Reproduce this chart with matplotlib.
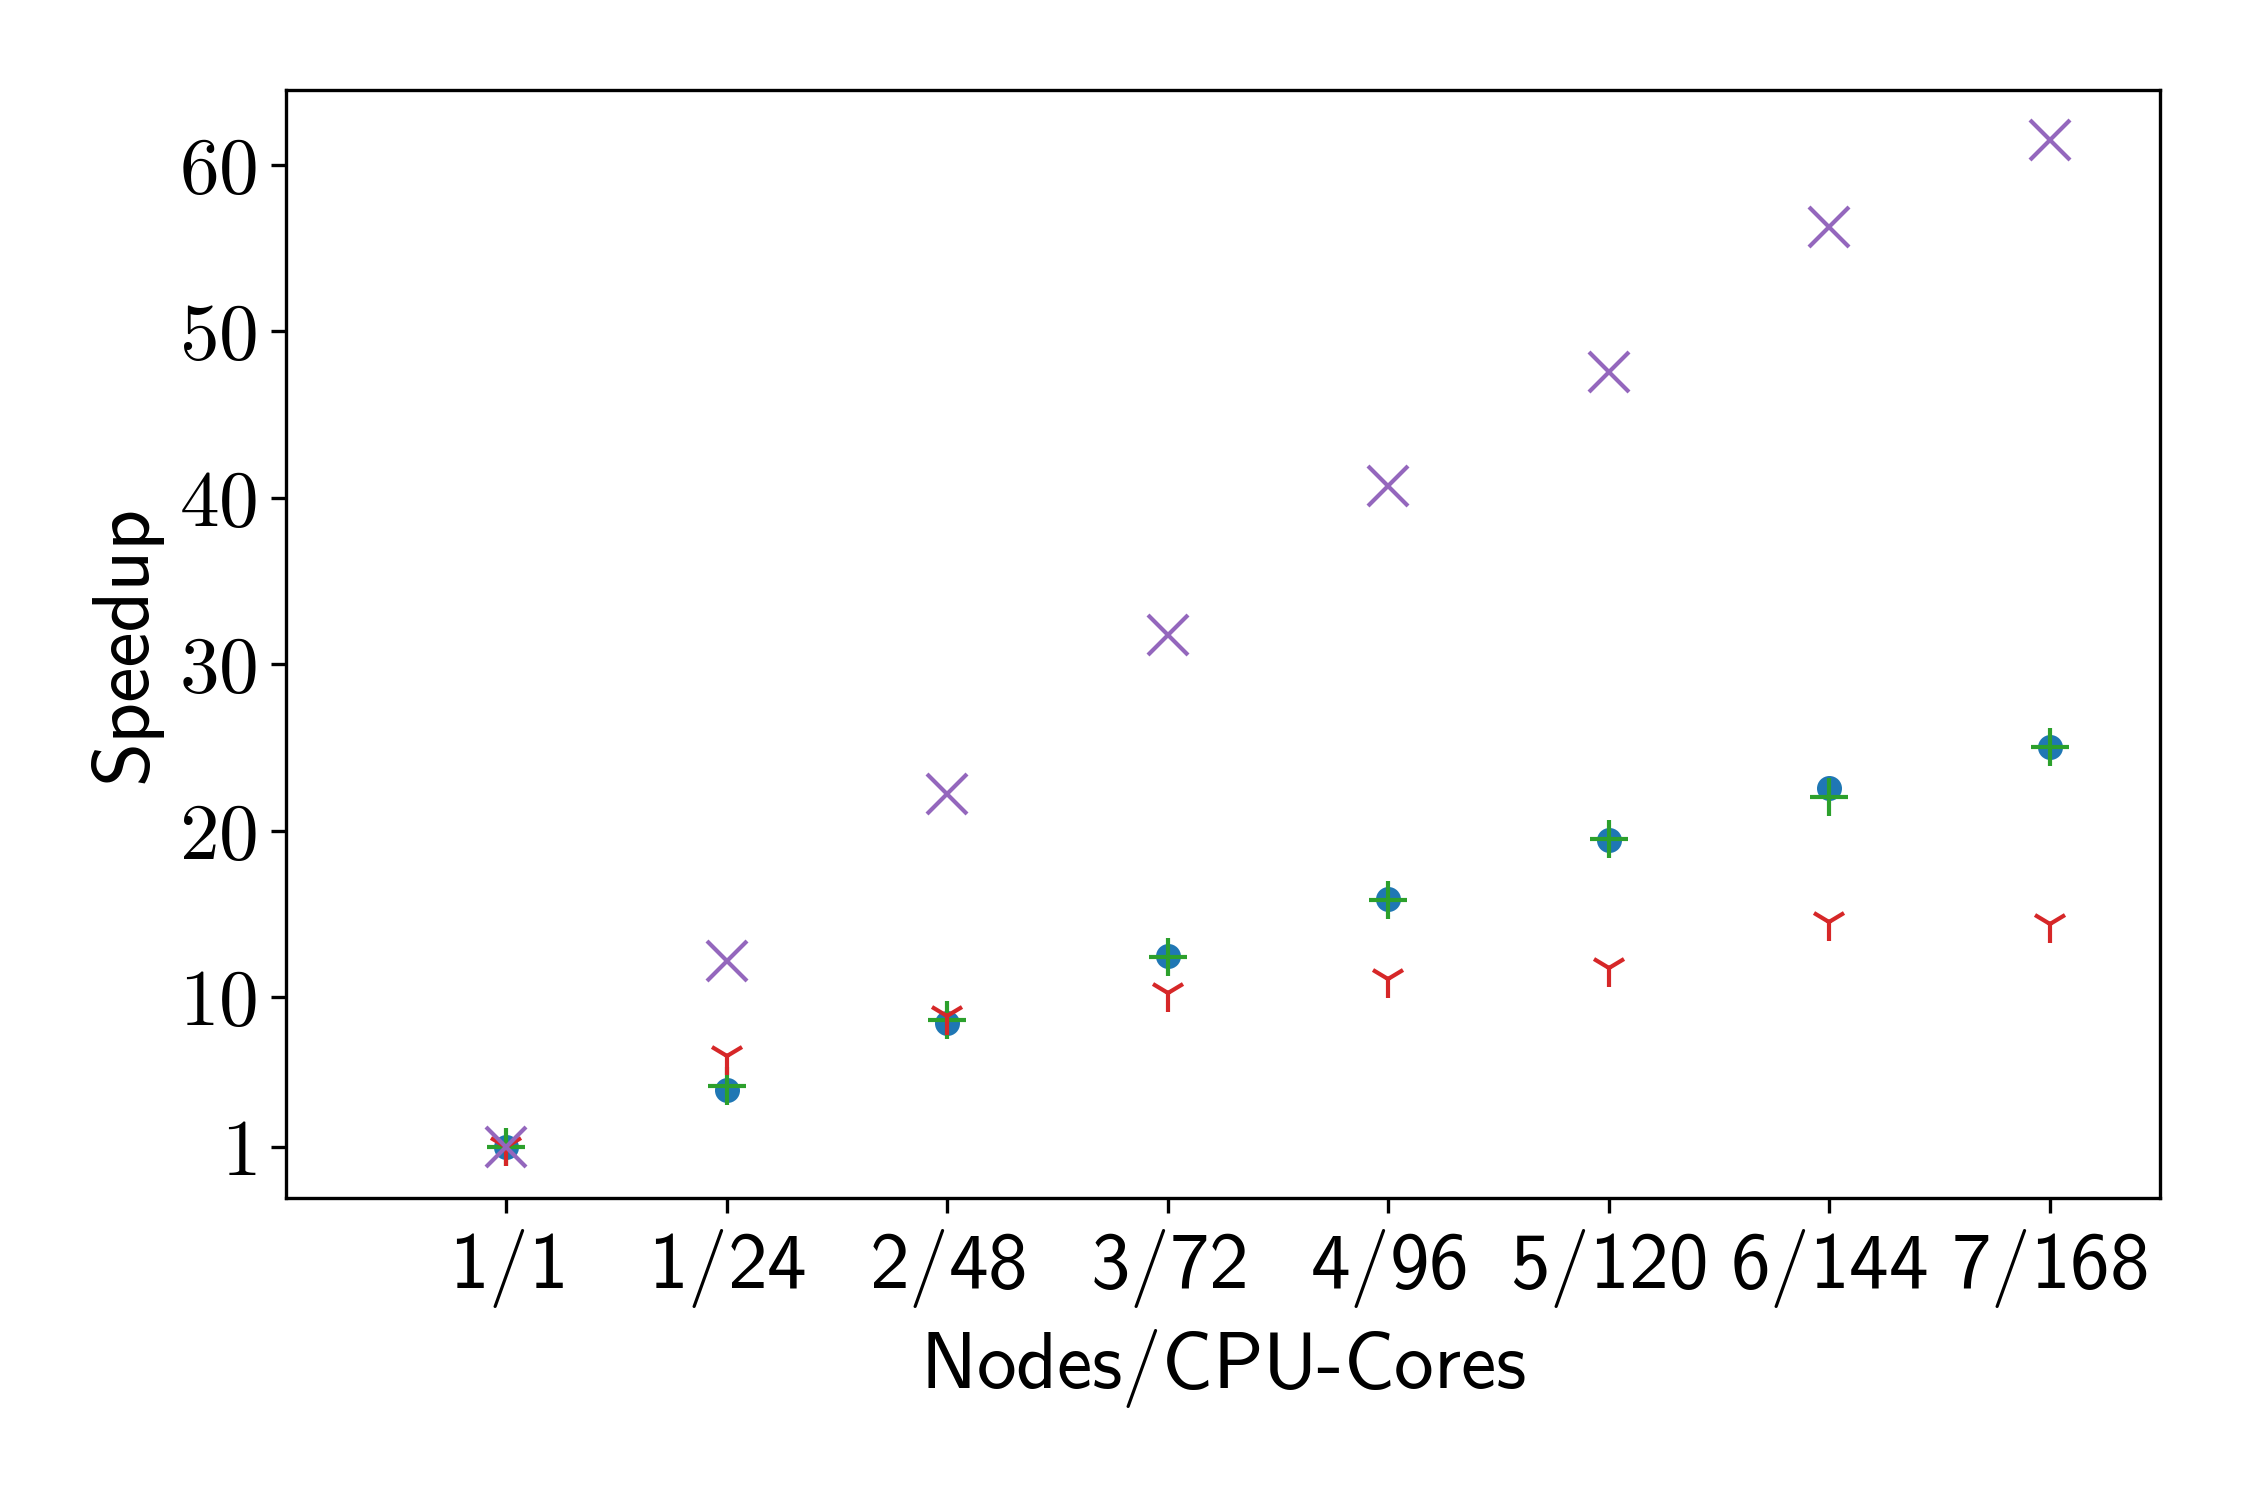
import numpy as np
import matplotlib.pyplot as plt

plt.rcParams['font.family'] = 'cmss10'
plt.rcParams['mathtext.fontset'] = 'cm'
plt.rcParams['axes.unicode_minus'] = False

configs = ['1/1', '1/24', '2/48', '3/72', '4/96', '5/120', '6/144', '7/168']
speedup_a = [1.0, 4.42, 8.46, 12.47, 15.9, 19.46, 22.56, 25.06]   # circles
speedup_b = [1.0, 4.7, 8.66, 12.42, 15.84, 19.54, 22.04, 25.06]   # plus
speedup_c = [1.0, 6.46, 8.86, 10.25, 11.1, 11.74, 14.52, 14.4]    # tri
speedup_d = [1.0, 12.16, 22.2, 31.77, 40.7, 47.55, 56.26, 61.45]  # cross
yticks = [1, 10, 20, 30, 40, 50, 60]

fs = 19
x = np.arange(1, len(configs) + 1)

fig = plt.figure(figsize=(7.5, 5), dpi=300)
ax = fig.add_axes([0.127, 0.2015, 0.833, 0.7385])

ax.plot(x, speedup_a, 'o', color='tab:blue', ms=5, ls='none')
ax.plot(x, speedup_b, '+', color='tab:green', ms=9, mew=1, ls='none')
ax.plot(x, speedup_c, '1', color='tab:red', ms=9, mew=1, ls='none')
ax.plot(x, speedup_d, 'x', color='tab:purple', ms=9.5, mew=1, ls='none')

ax.set_xlim(0, 8.5)
ax.set_xticks(x, [c.replace('/', '$/$') for c in configs], fontsize=fs)
ax.set_yticks(yticks, [f'${t}$' for t in yticks], fontsize=fs)
ax.set_xlabel('Nodes$/$CPU-Cores', fontsize=fs)
ax.set_ylabel('Speedup', fontsize=fs)

fig.savefig('out.png', dpi=300)
